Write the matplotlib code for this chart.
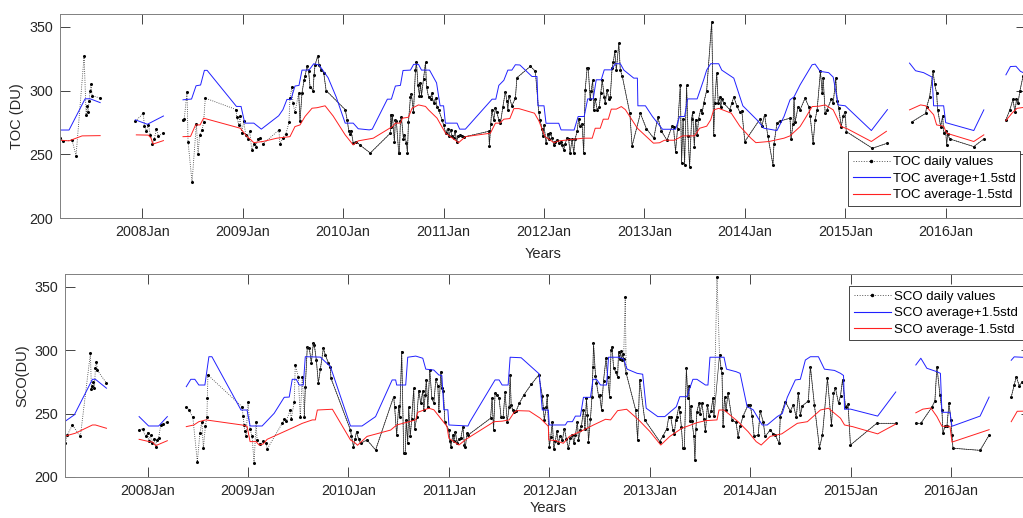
import numpy as np
import matplotlib.pyplot as plt
from matplotlib.lines import Line2D

plt.rcParams['font.family'] = ['Liberation Sans', 'DejaVu Sans']

nan = np.nan

# time in decimal years, value in DU; (nan, nan) rows mark gaps in the record
toc_daily = np.array([
    (2007.18, 262.5), (2007.21, 260.5), (2007.30, 261), (2007.34, 249), (2007.42, 327),
    (2007.44, 281), (2007.45, 288), (2007.46, 283), (2007.47, 292), (2007.48, 300),
    (2007.49, 305), (2007.50, 296), (2007.58, 294), (nan, nan),
    (2007.93, 276), (2008.01, 282), (2008.02, 272), (2008.04, 268), (2008.06, 273),
    (2008.08, 265), (2008.10, 258), (2008.12, 262), (2008.14, 270), (2008.16, 264),
    (2008.21, 267), (nan, nan),
    (2008.40, 277), (2008.418, 278), (2008.445, 299), (2008.455, 260), (2008.495, 228),
    (2008.538, 274), (2008.555, 250), (2008.57, 265), (2008.595, 269), (2008.61, 275),
    (2008.627, 294), (2008.936, 285), (2008.94, 279), (2008.96, 273), (2008.97, 280),
    (2008.99, 267), (2009.01, 276), (2009.03, 265), (2009.05, 262), (2009.07, 268),
    (2009.09, 253), (2009.11, 258), (2009.13, 256), (2009.15, 262), (2009.175, 262.6),
    (2009.20, 258), (2009.36, 269), (2009.37, 258), (2009.40, 263), (2009.43, 266),
    (2009.46, 275), (2009.47, 294), (2009.49, 303), (2009.50, 290), (2009.52, 283),
    (2009.557, 298), (2009.57, 276), (2009.59, 298), (2009.61, 308), (2009.62, 311),
    (2009.64, 319), (2009.656, 315), (2009.67, 303), (2009.70, 300), (2009.71, 312),
    (2009.72, 320), (2009.746, 327), (2009.76, 320), (2009.78, 316), (2009.806, 314),
    (2009.83, 300), (2010.02, 285), (2010.04, 277), (2010.055, 268.6), (2010.07, 266),
    (2010.08, 268), (2010.10, 259), (2010.13, 260), (2010.17, 257), (2010.27, 251),
    (2010.47, 266.5), (2010.475, 281), (2010.48, 271), (2010.49, 281), (2010.51, 260),
    (2010.52, 277), (2010.53, 276), (2010.553, 251), (2010.56, 251), (2010.57, 276),
    (2010.58, 279), (2010.60, 262), (2010.61, 265), (2010.63, 259), (2010.64, 251),
    (2010.65, 275), (2010.67, 295), (2010.68, 297), (2010.70, 283), (2010.72, 316),
    (2010.73, 322), (2010.745, 304), (2010.76, 296), (2010.77, 306), (2010.78, 296),
    (2010.80, 309), (2010.82, 322), (2010.83, 303), (2010.85, 295), (2010.87, 293),
    (2010.88, 298), (2010.90, 290), (2010.92, 294), (2010.935, 287), (2010.95, 285),
    (2010.985, 277), (2011.00, 273), (2011.02, 266.5), (2011.04, 270), (2011.05, 264),
    (2011.07, 269), (2011.085, 264), (2011.10, 263), (2011.115, 268), (2011.13, 260),
    (2011.145, 264), (2011.16, 265), (2011.18, 264), (2011.20, 263.5), (2011.45, 268),
    (2011.456, 256.5), (2011.47, 274), (2011.48, 285), (2011.50, 277), (2011.516, 286),
    (2011.53, 283), (2011.55, 277), (2011.566, 274.4), (2011.59, 287), (2011.615, 299),
    (2011.63, 292), (2011.64, 285), (2011.65, 296), (2011.68, 288), (2011.715, 294),
    (2011.73, 310), (2011.865, 319), (2011.914, 315), (2011.947, 283.5), (2011.96, 277),
    (2011.98, 270), (2011.99, 264), (2012.00, 273), (2012.02, 259), (2012.04, 266),
    (2012.05, 262), (2012.064, 266.5), (2012.08, 263), (2012.097, 257.3), (2012.11, 260),
    (2012.13, 261), (2012.15, 259), (2012.165, 260), (2012.18, 257.3), (2012.196, 253.4),
    (2012.21, 258), (2012.23, 263), (2012.245, 262), (2012.26, 251), (2012.28, 262),
    (2012.296, 251), (2012.31, 262), (2012.33, 268), (2012.345, 278), (2012.36, 272),
    (2012.38, 274), (2012.395, 251), (2012.41, 300.5), (2012.43, 317.6), (2012.44, 318),
    (2012.46, 293), (2012.47, 300), (2012.485, 308), (2012.495, 285), (2012.51, 293),
    (2012.53, 285), (2012.55, 287), (2012.565, 298), (2012.58, 308), (2012.60, 295),
    (2012.61, 290), (2012.628, 300.5), (2012.645, 293.5), (2012.66, 295), (2012.678, 317.6),
    (2012.69, 322), (2012.705, 330.6), (2012.72, 316), (2012.745, 337), (2012.76, 316),
    (2012.78, 311), (2012.855, 282), (2012.877, 256.5), (2012.96, 282), (2013.02, 270),
    (2013.093, 262.6), (2013.133, 279), (2013.17, 268), (2013.225, 261), (2013.275, 272),
    (2013.29, 271), (2013.31, 252), (2013.33, 270), (2013.357, 304), (2013.37, 243),
    (2013.385, 278), (2013.40, 241.6), (2013.42, 304), (2013.435, 264), (2013.45, 240),
    (2013.47, 278), (2013.48, 283), (2013.497, 256), (2013.51, 277), (2013.525, 265),
    (2013.54, 278), (2013.56, 285), (2013.575, 282), (2013.59, 290), (2013.62, 300),
    (2013.67, 354), (2013.69, 265), (2013.70, 290), (2013.72, 313.6), (2013.735, 290),
    (2013.75, 295), (2013.76, 287), (2013.775, 293), (2013.79, 290), (2013.85, 285),
    (2013.87, 290), (2013.89, 295), (2013.92, 288), (2013.95, 283), (2013.97, 284),
    (2014.00, 260), (2014.15, 277.5), (2014.17, 272), (2014.196, 281), (2014.23, 264),
    (2014.28, 241.6), (2014.29, 258), (2014.32, 274.4), (2014.35, 276), (2014.45, 278.3),
    (2014.46, 261.7), (2014.48, 274), (2014.49, 294), (2014.50, 275), (2014.53, 287),
    (2014.55, 284.8), (2014.60, 294), (2014.636, 287.4), (2014.65, 280), (2014.68, 258.7),
    (2014.70, 277), (2014.72, 285), (2014.753, 315), (2014.77, 298), (2014.78, 310),
    (2014.80, 282), (2014.82, 285), (2014.86, 293), (2014.88, 290), (2014.905, 309.7),
    (2014.92, 291.5), (2014.935, 286), (2014.96, 271.7), (2014.98, 280), (2015.00, 283.5),
    (2015.01, 267.8), (2015.27, 254.7), (2015.42, 258.7), (nan, nan),
    (2015.667, 275.6), (2015.80, 282), (2015.81, 287), (2015.84, 295), (2015.875, 315),
    (2015.89, 305), (2015.91, 298), (2015.92, 285), (2015.95, 271.7), (2015.97, 280),
    (2015.98, 267), (2016.00, 268), (2016.01, 257.3), (2016.02, 266), (2016.04, 262),
    (2016.28, 256), (2016.38, 262), (nan, nan),
    (2016.60, 277), (2016.64, 285), (2016.67, 293), (2016.69, 283), (2016.705, 293),
    (2016.72, 290), (2016.74, 300), (2016.77, 311),
])

toc_upper = np.array([
    (2007.18, 269), (2007.27, 269), (2007.43, 293.5), (2007.48, 293.5), (2007.58, 290.5), (nan, nan),
    (2007.93, 277), (2008.05, 273.5), (2008.21, 280), (nan, nan),
    (2008.405, 292.7), (2008.49, 293.3), (2008.535, 303.7), (2008.58, 304.3), (2008.618, 315.8),
    (2008.645, 315.8), (2008.937, 287.5), (2008.983, 287.5), (2009.02, 274.4), (2009.11, 274.4),
    (2009.185, 269.7), (2009.358, 280.2), (2009.40, 285), (2009.44, 293), (2009.48, 293),
    (2009.52, 303.5), (2009.56, 304), (2009.59, 316), (2009.66, 316), (2009.707, 321),
    (2009.76, 320), (2009.85, 310), (2009.93, 295), (2010.02, 274.4), (2010.10, 274.4),
    (2010.15, 270), (2010.26, 269.1), (2010.29, 269.7), (2010.44, 293.2), (2010.48, 293.2),
    (2010.52, 303.5), (2010.57, 304), (2010.596, 315.7), (2010.67, 316), (2010.702, 320.5),
    (2010.75, 320.5), (2010.78, 316), (2010.86, 316), (2010.93, 306), (2010.965, 288),
    (2011.00, 288), (2011.018, 274.4), (2011.134, 274.4), (2011.16, 269.7), (2011.217, 269.7),
    (2011.483, 293.2), (2011.52, 293.2), (2011.55, 304), (2011.60, 308), (2011.64, 316),
    (2011.68, 316), (2011.715, 320.2), (2011.76, 320), (2011.88, 311), (2011.93, 311),
    (2011.94, 288), (2012.00, 288), (2012.02, 274.3), (2012.147, 274.3), (2012.17, 269.1),
    (2012.30, 269), (2012.34, 279.6), (2012.40, 279.6), (2012.435, 293.4), (2012.49, 293.4),
    (2012.52, 308.4), (2012.57, 308.4), (2012.60, 316.2), (2012.67, 316.2), (2012.71, 321),
    (2012.76, 321), (2012.795, 316), (2012.894, 309.7), (2012.93, 309.7), (2012.935, 288),
    (2013.01, 288), (2013.08, 279.6), (2013.18, 269.6), (2013.31, 269.6), (2013.35, 279.6),
    (2013.40, 279.6), (2013.43, 293.4), (2013.525, 293.4), (2013.59, 308.4), (2013.62, 316),
    (2013.66, 321), (2013.74, 321), (2013.77, 316), (2013.89, 309.7), (2013.98, 288),
    (2014.12, 277), (2014.19, 270.4), (2014.32, 268.6), (2014.39, 279.6), (2014.45, 292.7),
    (2014.49, 295), (2014.55, 304.4), (2014.67, 320.2), (2014.70, 320.7), (2014.75, 315),
    (2014.835, 314), (2014.88, 310.5), (2014.93, 288.7), (2015.00, 288), (2015.26, 268.6),
    (2015.42, 285), (nan, nan),
    (2015.64, 321.5), (2015.70, 315.5), (2015.78, 314), (2015.865, 310.5), (2015.88, 288),
    (2015.98, 288), (2016.00, 274.8), (2016.28, 268.6), (2016.38, 284.8), (nan, nan),
    (2016.60, 312.3), (2016.645, 318.8), (2016.70, 319), (2016.745, 315), (2016.80, 313),
])

toc_lower = np.array([
    (2007.18, 261), (2007.27, 260.5), (2007.40, 264.4), (2007.58, 264.6), (nan, nan),
    (2007.94, 265.2), (2008.06, 265), (2008.087, 262.6), (2008.107, 258), (2008.21, 260.7), (nan, nan),
    (2008.405, 263.8), (2008.48, 264), (2008.53, 273), (2008.575, 273), (2008.61, 278.3),
    (2008.976, 270.4), (2009.03, 265), (2009.11, 259.1), (2009.20, 260), (2009.34, 262.6),
    (2009.47, 263.8), (2009.52, 271.7), (2009.57, 273), (2009.62, 279.6), (2009.69, 286.1),
    (2009.74, 286.5), (2009.82, 288), (2009.90, 280), (2010.02, 265.2), (2010.10, 257.3),
    (2010.15, 260.5), (2010.30, 262.6), (2010.49, 271.7), (2010.52, 274.4), (2010.57, 274.4),
    (2010.59, 278.3), (2010.65, 279), (2010.686, 286.1), (2010.75, 288.7), (2010.82, 287.5),
    (2010.85, 284.8), (2010.935, 278.3), (2010.98, 272), (2011.02, 266.5), (2011.15, 259.1),
    (2011.217, 263.8), (2011.466, 266.5), (2011.516, 274.4), (2011.56, 274.4), (2011.60, 277.5),
    (2011.66, 278), (2011.70, 285.8), (2011.75, 285.8), (2011.905, 282.2), (2011.95, 276),
    (2012.01, 263.8), (2012.10, 259.1), (2012.15, 260.5), (2012.395, 262.6), (2012.48, 262.6),
    (2012.51, 270.4), (2012.56, 270.4), (2012.59, 277.5), (2012.64, 277.5), (2012.67, 285.4),
    (2012.72, 285.4), (2012.77, 287.4), (2012.81, 285), (2012.93, 270.4), (2013.09, 258.7),
    (2013.15, 259), (2013.20, 261), (2013.30, 261), (2013.38, 264.4), (2013.50, 264.4),
    (2013.55, 270.4), (2013.62, 272), (2013.66, 277), (2013.69, 284.8), (2013.74, 286),
    (2013.865, 282.2), (2013.95, 272), (2014.06, 262.6), (2014.11, 259.1), (2014.24, 260),
    (2014.39, 262.6), (2014.45, 264.4), (2014.55, 271.7), (2014.60, 278), (2014.67, 287.4),
    (2014.74, 287.7), (2014.80, 288.7), (2014.88, 284.8), (2014.96, 271.7), (2015.02, 270),
    (2015.26, 260), (2015.41, 268), (nan, nan),
    (2015.64, 284.8), (2015.75, 288.7), (2015.80, 288), (2015.88, 281), (2015.91, 273),
    (2015.98, 272), (2016.01, 266.5), (2016.28, 260), (2016.38, 265.2), (nan, nan),
    (2016.60, 276.4), (2016.66, 282.2), (2016.71, 286), (2016.80, 287),
])

sco_daily = np.array([
    (2007.18, 227), (2007.20, 233), (2007.25, 241), (2007.33, 232), (2007.43, 297.5),
    (2007.44, 269), (2007.45, 272), (2007.46, 275), (2007.47, 270), (2007.48, 286),
    (2007.49, 291), (2007.50, 284), (2007.59, 274), (nan, nan),
    (2007.915, 237), (2007.95, 238), (2007.98, 232), (2008.00, 235), (2008.01, 228),
    (2008.03, 233), (2008.04, 227), (2008.06, 230), (2008.08, 224), (2008.09, 229),
    (2008.11, 231), (2008.13, 241), (2008.15, 242), (2008.196, 243), (nan, nan),
    (2008.385, 255), (2008.41, 253), (2008.45, 247), (2008.495, 212), (2008.52, 234.5),
    (2008.54, 243.6), (2008.555, 222.7), (2008.575, 240), (2008.59, 247.6), (2008.595, 262),
    (2008.60, 280.4), (2008.94, 255.4), (2008.95, 248), (2008.96, 241), (2008.97, 236),
    (2008.98, 232), (2009.00, 259), (2009.02, 238), (2009.04, 232), (2009.06, 211),
    (2009.08, 243.6), (2009.09, 229), (2009.12, 226), (2009.15, 228), (2009.18, 226.6),
    (2009.19, 222), (2009.34, 242.3), (2009.36, 245.4), (2009.38, 244), (2009.42, 252.8),
    (2009.43, 246), (2009.46, 259.4), (2009.47, 288.3), (2009.50, 279), (2009.52, 247.6),
    (2009.54, 279), (2009.56, 247.6), (2009.57, 271), (2009.59, 302.7), (2009.61, 301.5),
    (2009.63, 290), (2009.65, 305.4), (2009.66, 304), (2009.68, 292.2), (2009.70, 273.9),
    (2009.72, 285), (2009.75, 301.5), (2009.77, 296), (2009.80, 290), (2009.82, 287),
    (2009.825, 278), (2010.02, 237), (2010.03, 232), (2010.05, 224), (2010.065, 230),
    (2010.08, 235.7), (2010.10, 230), (2010.12, 226.6), (2010.185, 229.2), (2010.27, 221.3),
    (2010.45, 263.3), (2010.46, 255), (2010.48, 233.1), (2010.50, 256), (2010.51, 247),
    (2010.53, 298.8), (2010.55, 218.7), (2010.565, 218.7), (2010.575, 245), (2010.59, 227),
    (2010.60, 255), (2010.615, 232), (2010.63, 246), (2010.65, 270), (2010.66, 238),
    (2010.68, 247), (2010.70, 268), (2010.72, 258), (2010.74, 268), (2010.75, 253),
    (2010.765, 265), (2010.775, 276.5), (2010.79, 255), (2010.81, 284.3), (2010.83, 262),
    (2010.85, 258), (2010.87, 277), (2010.89, 272), (2010.90, 252), (2010.92, 283),
    (2010.93, 270), (2010.945, 268), (2010.96, 243), (2011.00, 237), (2011.01, 228),
    (2011.02, 224), (2011.04, 233), (2011.05, 228), (2011.065, 235.7), (2011.08, 227),
    (2011.10, 230), (2011.12, 231), (2011.14, 239.7), (2011.155, 225.2), (2011.165, 224),
    (2011.18, 234.5), (2011.19, 233), (2011.415, 246.3), (2011.43, 262), (2011.445, 237),
    (2011.46, 266), (2011.48, 264.7), (2011.50, 262), (2011.52, 247), (2011.54, 247),
    (2011.56, 267), (2011.58, 243), (2011.60, 255), (2011.61, 280.4), (2011.62, 257),
    (2011.635, 253), (2011.645, 251.5), (2011.67, 252), (2011.70, 258), (2011.75, 265),
    (2011.82, 273), (2011.895, 280.4), (2011.93, 264), (2011.94, 254), (2011.95, 245),
    (2011.97, 255.4), (2011.98, 264.7), (2012.00, 224), (2012.015, 231.8), (2012.03, 243.6),
    (2012.045, 222), (2012.06, 228), (2012.075, 236), (2012.09, 227), (2012.11, 232),
    (2012.13, 229), (2012.15, 238), (2012.17, 230), (2012.19, 222.7), (2012.21, 231),
    (2012.23, 233), (2012.245, 226.6), (2012.26, 233), (2012.28, 243.6), (2012.29, 229),
    (2012.31, 237), (2012.32, 240), (2012.34, 252.8), (2012.355, 238), (2012.37, 262),
    (2012.38, 249), (2012.39, 227.9), (2012.41, 246), (2012.425, 263.3), (2012.435, 287),
    (2012.44, 305.4), (2012.46, 280), (2012.47, 274), (2012.49, 264), (2012.50, 265),
    (2012.52, 253), (2012.54, 276), (2012.565, 293.6), (2012.58, 279), (2012.60, 263.3),
    (2012.615, 300), (2012.625, 302.7), (2012.64, 286), (2012.66, 283), (2012.68, 279),
    (2012.69, 298.8), (2012.70, 293), (2012.71, 299), (2012.72, 292), (2012.73, 297),
    (2012.74, 293), (2012.756, 342), (2012.766, 281.7), (2012.86, 252.8), (2012.88, 229.2),
    (2012.90, 276.5), (2012.95, 245), (2013.10, 227.9), (2013.13, 232), (2013.17, 238),
    (2013.19, 247.6), (2013.21, 247), (2013.23, 237), (2013.245, 234), (2013.26, 245),
    (2013.27, 247.6), (2013.29, 255.4), (2013.30, 251), (2013.315, 239.7), (2013.33, 222.7),
    (2013.345, 223), (2013.365, 285.7), (2013.38, 262), (2013.39, 272), (2013.40, 244),
    (2013.41, 256), (2013.42, 244), (2013.44, 232), (2013.45, 213.4), (2013.46, 238),
    (2013.47, 251.5), (2013.49, 258), (2013.50, 250), (2013.52, 258), (2013.54, 246),
    (2013.555, 236), (2013.575, 257), (2013.59, 248), (2013.61, 252), (2013.63, 262),
    (2013.64, 248), (2013.67, 357.9), (2013.695, 296.2), (2013.71, 286), (2013.72, 281.7),
    (2013.73, 240), (2013.745, 263), (2013.76, 252.8), (2013.78, 266), (2013.82, 245),
    (2013.86, 243), (2013.88, 231.8), (2013.90, 240), (2013.93, 248), (2013.98, 256.8),
    (2014.00, 257), (2014.02, 248), (2014.04, 232), (2014.08, 233), (2014.10, 252),
    (2014.13, 243.6), (2014.15, 232), (2014.20, 237), (2014.23, 234), (2014.25, 233),
    (2014.29, 226.6), (2014.30, 247.6), (2014.35, 259.4), (2014.40, 252), (2014.43, 256.8),
    (2014.46, 247), (2014.48, 266), (2014.50, 248.9), (2014.52, 256), (2014.58, 260),
    (2014.60, 287), (2014.64, 256.8), (2014.69, 223.1), (2014.72, 233.1), (2014.77, 277.8),
    (2014.81, 241), (2014.83, 266), (2014.85, 270), (2014.88, 258), (2014.90, 264),
    (2014.92, 276.5), (2014.95, 255.4), (2014.975, 257.3), (2014.999, 225.2), (2015.26, 242.3),
    (2015.45, 242.3), (nan, nan),
    (2015.65, 242.3), (2015.70, 242.3), (2015.81, 255), (2015.84, 260), (2015.86, 287),
    (2015.89, 264.7), (2015.91, 252.8), (2015.92, 234.5), (2015.94, 240), (2015.96, 240),
    (2015.98, 258), (2016.00, 245), (2016.01, 233), (2016.02, 222.7), (2016.29, 221),
    (2016.38, 233), (nan, nan),
    (2016.60, 263), (2016.63, 272.5), (2016.65, 279), (2016.68, 272), (2016.71, 275),
    (2016.78, 276),
])

sco_upper = np.array([
    (2007.18, 244), (2007.27, 249), (2007.45, 277), (2007.48, 277), (2007.59, 270), (nan, nan),
    (2007.915, 247.6), (2008.01, 240.2), (2008.11, 240.2), (2008.196, 247.6), (nan, nan),
    (2008.385, 271.2), (2008.43, 277), (2008.47, 277), (2008.51, 272.5), (2008.57, 272.5),
    (2008.61, 294.8), (2008.64, 294.8), (2008.93, 252.8), (2008.99, 252.8), (2009.02, 240.2),
    (2009.14, 240.2), (2009.26, 250.2), (2009.36, 262.8), (2009.41, 263), (2009.44, 277),
    (2009.48, 277), (2009.51, 272.5), (2009.55, 272.5), (2009.57, 294.8), (2009.72, 294.5),
    (2009.82, 287), (2010.02, 240.2), (2010.135, 240.2), (2010.27, 247.6), (2010.435, 276.5),
    (2010.47, 276.5), (2010.48, 272.5), (2010.57, 272.5), (2010.59, 294.4), (2010.67, 295.3),
    (2010.74, 293.6), (2010.77, 285), (2010.85, 284.3), (2010.90, 280.4), (2010.93, 280),
    (2010.95, 253), (2010.99, 253), (2011.00, 241), (2011.19, 240.2), (2011.21, 243.6),
    (2011.46, 276.5), (2011.50, 276.5), (2011.53, 272.5), (2011.59, 272.5), (2011.61, 294.4),
    (2011.72, 294), (2011.90, 281.2), (2011.93, 252.8), (2011.99, 252.8), (2012.00, 241),
    (2012.16, 241), (2012.18, 243.6), (2012.23, 243.6), (2012.26, 248), (2012.31, 248),
    (2012.34, 262.8), (2012.41, 262.8), (2012.435, 277), (2012.47, 277), (2012.51, 272.5),
    (2012.57, 272.5), (2012.59, 294.4), (2012.69, 294.4), (2012.74, 293), (2012.775, 285),
    (2012.875, 281.7), (2012.93, 281), (2012.965, 254.2), (2013.08, 247.6), (2013.15, 247.6),
    (2013.265, 255.4), (2013.30, 263.3), (2013.37, 263.3), (2013.43, 277), (2013.47, 277),
    (2013.555, 272.5), (2013.58, 272.5), (2013.60, 294.4), (2013.74, 294.4), (2013.765, 285),
    (2013.86, 283), (2013.90, 281.7), (2013.97, 255.4), (2014.03, 253), (2014.12, 241),
    (2014.17, 241), (2014.27, 247.6), (2014.32, 250), (2014.37, 262.8), (2014.45, 276.5),
    (2014.50, 277), (2014.55, 292.2), (2014.60, 294.8), (2014.68, 294.8), (2014.74, 285),
    (2014.84, 284), (2014.90, 281.7), (2014.93, 280), (2014.94, 253.4), (2015.00, 253.5),
    (2015.27, 248), (2015.45, 267), (nan, nan),
    (2015.65, 288.3), (2015.70, 293.6), (2015.76, 285.7), (2015.86, 283), (2015.895, 281.7),
    (2015.91, 251), (2015.99, 251), (2016.01, 240), (2016.29, 248), (2016.38, 263), (nan, nan),
    (2016.60, 292), (2016.63, 294.7), (2016.80, 294),
])

sco_lower = np.array([
    (2007.18, 232.3), (2007.28, 234.5), (2007.45, 241), (2007.48, 241), (2007.59, 238.4), (nan, nan),
    (2007.915, 229.7), (2008.01, 228), (2008.05, 227.5), (2008.08, 224.7), (2008.196, 228.6), (nan, nan),
    (2008.385, 239.7), (2008.46, 241), (2008.51, 243.6), (2008.58, 245), (2008.94, 241),
    (2008.99, 240), (2009.02, 227.9), (2009.08, 227.9), (2009.11, 225.2), (2009.15, 226),
    (2009.19, 229.7), (2009.47, 239.7), (2009.54, 242.3), (2009.64, 245), (2009.67, 245),
    (2009.69, 252.8), (2009.84, 253.4), (2010.02, 229.2), (2010.07, 226.6), (2010.09, 225),
    (2010.185, 232), (2010.42, 237), (2010.48, 241), (2010.67, 245), (2010.69, 251),
    (2010.80, 254.2), (2010.85, 253), (2010.93, 245), (2010.98, 240), (2011.00, 230.5),
    (2011.10, 225.2), (2011.17, 229.7), (2011.45, 243.6), (2011.53, 244), (2011.60, 245),
    (2011.65, 251), (2011.68, 252.3), (2011.80, 252), (2011.91, 246.3), (2011.99, 240),
    (2011.995, 229.2), (2012.06, 228.7), (2012.14, 226.6), (2012.20, 232), (2012.34, 237),
    (2012.44, 241), (2012.56, 245.5), (2012.61, 245), (2012.68, 252.3), (2012.77, 253.4),
    (2012.89, 245), (2013.00, 236), (2013.11, 225.2), (2013.20, 232), (2013.32, 238.4),
    (2013.47, 242.8), (2013.555, 244.4), (2013.67, 245), (2013.69, 252.8), (2013.74, 252.8),
    (2013.88, 243.6), (2013.98, 235.7), (2014.06, 227.9), (2014.11, 225.2), (2014.20, 232),
    (2014.315, 234), (2014.47, 242.3), (2014.57, 243.6), (2014.70, 252.8), (2014.78, 254.2),
    (2014.90, 246.3), (2014.94, 241), (2015.02, 239.7), (2015.27, 234), (2015.45, 241.7), (nan, nan),
    (2015.65, 250.6), (2015.72, 253.5), (2015.80, 254.4), (2015.86, 247.6), (2015.91, 240),
    (2015.99, 240), (2016.01, 227.5), (2016.38, 237.3), (nan, nan),
    (2016.60, 243.6), (2016.66, 251.8), (2016.80, 252),
])

# points that appear only in the dotted daily trace (not in the solid one)
sco_dotted_only = [2012.756, 2013.67]
solid_start = 2009.55

years = list(range(2008, 2017))
year_labels = [f'{y}Jan' for y in years]

fig = plt.figure(figsize=(10.23, 5.18), dpi=100)
ax1 = fig.add_axes([60 / 1023, 1 - 218 / 518, 966 / 1023, 204 / 518])
ax2 = fig.add_axes([65.3 / 1023, 1 - 477 / 518, 966 / 1023, 203 / 518])


def draw(ax, daily, upper, lower, name, ylab, dotted_only, xpad, legend_kw):
    t, v = daily.T
    ax.plot(t, v, ':', color='#333333', lw=0.6, marker='.', ms=2.4, mfc='k', mec='k')
    keep = (np.isnan(t) | (t >= solid_start)) & ~np.isin(t, dotted_only)
    ax.plot(t[keep], v[keep], '-', color='#222222', lw=0.45)
    ax.plot(upper[:, 0], upper[:, 1], color='#2020ff', lw=0.7)
    ax.plot(lower[:, 0], lower[:, 1], color='#ff2020', lw=0.7)

    ax.set_xlim(2007.18, 2016.80)
    ax.set_ylim(200, 360)
    ax.set_yticks([200, 250, 300, 350])
    ax.set_xticks(years)
    ax.set_xticklabels(year_labels)
    ax.tick_params(direction='in', length=7, width=0.6, top=True, right=True,
                   labelsize=10.3, colors='#262626', pad=5)
    for s in ax.spines.values():
        s.set_color('#808080')
        s.set_linewidth(0.7)
    ax.set_ylabel(ylab, fontsize=10.5, color='#262626', labelpad=4)
    ax.set_xlabel('Years', fontsize=10.5, color='#262626', labelpad=xpad)

    handles = [
        Line2D([], [], ls=':', color='#555555', lw=0.7, marker='.', ms=3, mfc='k', mec='k'),
        Line2D([], [], color='#2020ff', lw=0.8),
        Line2D([], [], color='#ff2020', lw=0.8),
    ]
    labels = [f'{name} daily values', f'{name} average+1.5std', f'{name} average-1.5std']
    leg = ax.legend(handles, labels, fontsize=9.5, fancybox=False, framealpha=1,
                    edgecolor='#262626', handlelength=2.8, handletextpad=0.25,
                    labelspacing=0.33, borderpad=0.35, borderaxespad=0, numpoints=1,
                    **legend_kw)
    leg.get_frame().set_linewidth(0.6)


draw(ax1, toc_daily, toc_upper, toc_lower, 'TOC', 'TOC (DU)', [], 6,
     dict(loc='lower right', bbox_to_anchor=(0.994, 0.059)))
draw(ax2, sco_daily, sco_upper, sco_lower, 'SCO', 'SCO(DU)', sco_dotted_only, 2,
     dict(loc='upper right', bbox_to_anchor=(0.991, 0.942)))

fig.savefig('out.png', dpi=100, facecolor='white')
